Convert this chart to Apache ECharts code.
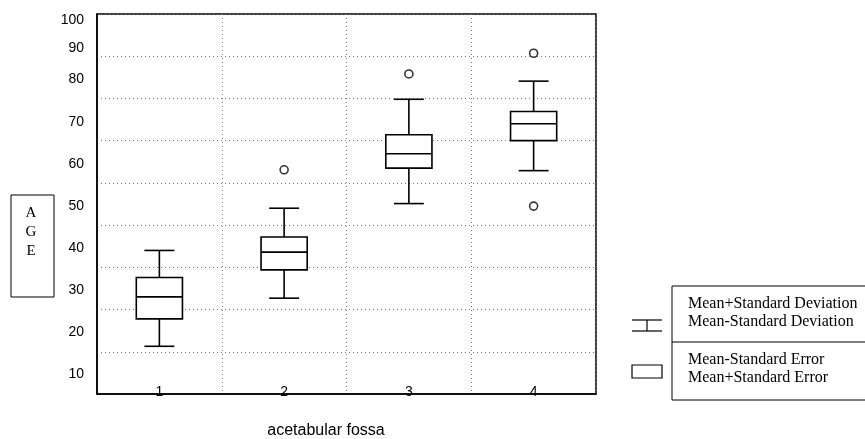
<!DOCTYPE html>
<html>
<head>
<meta charset="utf-8">
<script src="https://cdn.jsdelivr.net/npm/echarts@6/dist/echarts.min.js"></script>
<style>
  html, body { margin: 0; padding: 0; background: #fff; }
  #chart { width: 865px; height: 439px; }
</style>
</head>
<body>
<div id="chart"></div>
<script>
// ---- data ----
const categories   = ['1', '2', '3', '4'];
const whiskerLow   = [16.3, 27.7, 50.1, 57.9];
const boxLow       = [22.8, 34.4, 58.5, 65.0];
const medianVal    = [28.0, 38.6, 61.9, 69.0];
const boxHigh      = [32.6, 42.2, 66.4, 71.9];
const whiskerHigh  = [39.0, 49.0, 74.8, 79.1];
const outlierCat   = ['2', '3', '4', '4'];
const outlierVal   = [58.1, 80.8, 85.7, 49.5];
const yTickLabels  = ['10', '20', '30', '40', '50', '60', '70', '80', '90', '100'];
const yTickAt      = [9.7, 19.6, 29.5, 39.5, 49.5, 59.5, 69.5, 79.5, 87, 93.6];
const xAxisTitle   = 'acetabular fossa';
const yAxisTitle   = ['A', 'G', 'E'];
const legendTexts  = ['Mean+Standard Deviation', 'Mean-Standard Deviation',
                      'Mean-Standard Error', 'Mean+Standard Error'];

const boxData = categories.map((c, i) =>
  [i, whiskerLow[i], boxLow[i], medianVal[i], boxHigh[i], whiskerHigh[i]]);
const outlierData = outlierCat.map((c, i) => [c, outlierVal[i]]);

const chart = echarts.init(document.getElementById('chart'), null, { renderer: 'canvas' });
const sans = '"Liberation Sans", Arial, sans-serif';
const serif = '"Liberation Serif", "Times New Roman", serif';

const option = {
  animation: false,
  backgroundColor: '#fff',
  grid: { left: 97, top: 14, right: 269, bottom: 45, show: true,
          borderColor: '#000', borderWidth: 1.5, backgroundColor: 'transparent' },
  xAxis: {
    type: 'category', data: categories, boundaryGap: true,
    axisLine: { show: true, lineStyle: { color: '#000', width: 1.5 } },
    axisTick: { show: false },
    axisLabel: { color: '#000', fontSize: 14, fontFamily: sans, margin: -9 },
    splitLine: { show: true, lineStyle: { color: '#777', width: 1, type: [1, 3] } }
  },
  yAxis: [{
    type: 'value', min: 5, max: 95,
    axisLine: { show: true, lineStyle: { color: '#000', width: 1.5 } },
    axisTick: { show: false },
    splitLine: { show: false },
    axisLabel: {
      color: '#000', fontSize: 14, fontFamily: sans, margin: 13,
      customValues: yTickAt,
      formatter: function (v) {
        let best = 0;
        yTickAt.forEach((t, i) => { if (Math.abs(t - v) < Math.abs(yTickAt[best] - v)) best = i; });
        return yTickLabels[best];
      }
    }
  }, {
    type: 'value', min: 0, max: 90, interval: 10, position: 'left',
    axisLine: { show: false }, axisTick: { show: false }, axisLabel: { show: false },
    splitLine: { show: true, lineStyle: { color: '#777', width: 1, type: [1, 3] } }
  }],
  series: [{
    type: 'custom',
    xAxisIndex: 0, yAxisIndex: 0,
    data: boxData,
    encode: { x: 0, y: [1, 2, 3, 4, 5] },
    renderItem: function (params, api) {
      const x = api.value(0);
      const pLo = api.coord([x, api.value(1)]);
      const pQ1 = api.coord([x, api.value(2)]);
      const pMed = api.coord([x, api.value(3)]);
      const pQ3 = api.coord([x, api.value(4)]);
      const pHi = api.coord([x, api.value(5)]);
      const band = api.size([1, 0])[0];
      const bw = band * 0.37, cw = band * 0.24;
      const cx = pMed[0];
      const st = { stroke: '#000', lineWidth: 1.6, fill: null };
      return {
        type: 'group',
        children: [
          { type: 'line', shape: { x1: cx, y1: pHi[1], x2: cx, y2: pQ3[1] }, style: st },
          { type: 'line', shape: { x1: cx, y1: pQ1[1], x2: cx, y2: pLo[1] }, style: st },
          { type: 'line', shape: { x1: cx - cw / 2, y1: pHi[1], x2: cx + cw / 2, y2: pHi[1] }, style: st },
          { type: 'line', shape: { x1: cx - cw / 2, y1: pLo[1], x2: cx + cw / 2, y2: pLo[1] }, style: st },
          { type: 'rect', shape: { x: cx - bw / 2, y: pQ3[1], width: bw, height: pQ1[1] - pQ3[1] },
            style: { stroke: '#000', lineWidth: 1.6, fill: '#fff' } },
          { type: 'line', shape: { x1: cx - bw / 2, y1: pMed[1], x2: cx + bw / 2, y2: pMed[1] }, style: st }
        ]
      };
    }
  }, {
    type: 'scatter',
    xAxisIndex: 0, yAxisIndex: 0,
    data: outlierData,
    symbol: 'circle', symbolSize: 8,
    itemStyle: { color: '#fff', borderColor: '#000', borderWidth: 1.6 }
  }],
  graphic: [
    { type: 'text', x: 326, y: 431, style: { text: xAxisTitle, font: '16px ' + sans,
      fill: '#000', align: 'center', verticalAlign: 'middle' } },
    { type: 'rect', shape: { x: 11, y: 195, width: 43, height: 102 },
      style: { stroke: '#000', lineWidth: 1, fill: '#fff' } },
    { type: 'text', x: 31, y: 213, style: { text: yAxisTitle[0], font: '15px ' + serif, fill: '#000', align: 'center', verticalAlign: 'middle' } },
    { type: 'text', x: 31, y: 232, style: { text: yAxisTitle[1], font: '15px ' + serif, fill: '#000', align: 'center', verticalAlign: 'middle' } },
    { type: 'text', x: 31, y: 251, style: { text: yAxisTitle[2], font: '15px ' + serif, fill: '#000', align: 'center', verticalAlign: 'middle' } },
    { type: 'rect', shape: { x: 672, y: 286, width: 200, height: 114 },
      style: { stroke: '#000', lineWidth: 1, fill: '#fff' } },
    { type: 'line', shape: { x1: 672, y1: 342, x2: 865, y2: 342 }, style: { stroke: '#000', lineWidth: 1 } },
    { type: 'text', x: 688, y: 304, style: { text: legendTexts[0], font: '16px ' + serif, fill: '#000', verticalAlign: 'middle' } },
    { type: 'text', x: 688, y: 322, style: { text: legendTexts[1], font: '16px ' + serif, fill: '#000', verticalAlign: 'middle' } },
    { type: 'text', x: 688, y: 360, style: { text: legendTexts[2], font: '16px ' + serif, fill: '#000', verticalAlign: 'middle' } },
    { type: 'text', x: 688, y: 378, style: { text: legendTexts[3], font: '16px ' + serif, fill: '#000', verticalAlign: 'middle' } },
    { type: 'line', shape: { x1: 632, y1: 320, x2: 662, y2: 320 }, style: { stroke: '#000', lineWidth: 1.2 } },
    { type: 'line', shape: { x1: 647, y1: 320, x2: 647, y2: 331 }, style: { stroke: '#000', lineWidth: 1.2 } },
    { type: 'line', shape: { x1: 632, y1: 331, x2: 662, y2: 331 }, style: { stroke: '#000', lineWidth: 1.2 } },
    { type: 'rect', shape: { x: 632, y: 365, width: 30, height: 13 }, style: { stroke: '#000', lineWidth: 1.2, fill: '#fff' } }
  ]
};
chart.setOption(option);
</script>
</body>
</html>
